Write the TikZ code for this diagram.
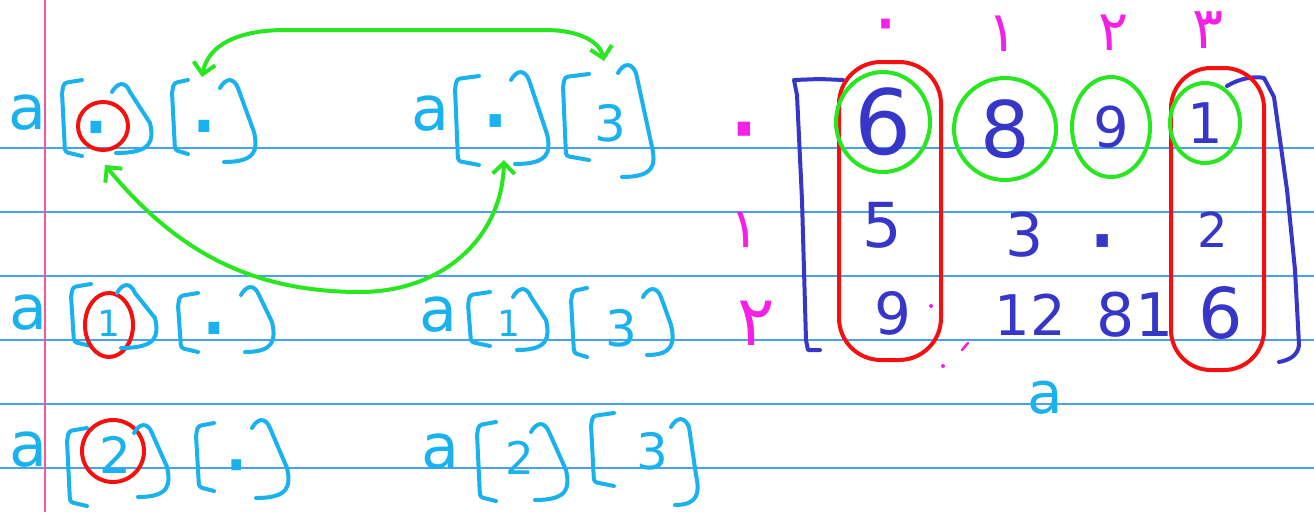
\documentclass[tikz,border=0pt]{standalone}
\usepackage{fontspec}
\setmainfont{DejaVu Sans}
\newfontfamily\fa[Script=Arabic]{DejaVu Sans}
\usetikzlibrary{arrows.meta}
\definecolor{inkblue}{HTML}{1AB2EE}
\definecolor{rulecol}{HTML}{4A9FF2}
\definecolor{margincol}{HTML}{F2589A}
\definecolor{gpen}{HTML}{28E620}
\definecolor{rpen}{HTML}{F51010}
\definecolor{mpen}{HTML}{3636C8}
\definecolor{lpen}{HTML}{F51FE6}
\tikzset{
  pen/.style={line width=4pt,line cap=round,line join=round},
  brk/.style={pen,draw=inkblue,rounded corners=3pt},
  lb/.style={text=inkblue,inner sep=0pt},
  mn/.style={text=mpen,inner sep=0pt},
  lab/.style={text=lpen,inner sep=0pt},
  fs/.style={font=\fontsize{#1}{#1}\selectfont},
  rcirc/.style={pen,draw=rpen},
  gcirc/.style={pen,draw=gpen},
  garrow/.style={pen,draw=gpen,{Straight Barb[length=11pt,width=22pt]}-{Straight Barb[length=11pt,width=22pt]}},
  rulel/.style={draw=rulecol,line width=1.3pt}
}
\newcommand\LBrk[4]{\draw[brk] (#1+#4,#2) -- (#1+2,#2+3) -- (#1,#2+12) -- (#1+3,#3-4) -- (#1+#4,#3);}
\newcommand\RBrk[4]{\draw[brk,rounded corners=0pt] (#1-#4,#2+10) .. controls (#1-#4+5,#2+1) and (#1-#4+13,#2-2) .. (#1-#4+18,#2+10) -- (#1-2,#3-30) .. controls (#1+2,#3-12) and (#1,#3) .. (#1-#4+4,#3);}
\begin{document}
\begin{tikzpicture}[x=1pt,y=-1pt]
\useasboundingbox (0,0) rectangle (1314,512);
\fill[white] (0,0) rectangle (1314,512);
% ruled paper
\foreach \yy in {148,212,276,340,404,468} \draw[rulel] (0,\yy) -- (1314,\yy);
\draw[draw=margincol,line width=1.8pt] (45,0) -- (45,512);

% ---------- row 0 ----------
\node[lb,fs=62] (a00) at (27,113) {a};
\LBrk{62}{80}{156}{20}
\node[lb,fs=100] (i00a) at (96,138) {\fa ۰};
\RBrk{152}{82}{153}{40}
\LBrk{172}{80}{154}{16}
\node[lb,fs=100] (i00b) at (204,137) {\fa ۰};
\RBrk{256}{78}{162}{36}
\draw[rcirc] (103,126) ellipse [x radius=25,y radius=24];
\node[lb,fs=105] (i03a) at (496,133) {\fa ۰};
\node[lb,fs=62] (a03) at (430,114) {a};
\LBrk{455}{76}{165}{24}
\RBrk{549}{70}{164}{38}
\LBrk{563}{74}{160}{26}
\node[lb,fs=50] (i03b) at (610,123) {3};
\RBrk{654}{63}{177}{36}

% ---------- row 1 ----------
\node[lb,fs=62] (a10) at (28,313) {a};
\LBrk{71}{284}{346}{20}
\node[lb,fs=36] (i10a) at (109,323) {1};
\draw[rcirc] (109,325) ellipse [x radius=24,y radius=32];
\RBrk{157}{283}{348}{40}
\LBrk{178}{293}{352}{20}
\node[lb,fs=100] (i10b) at (214,339) {\fa ۰};
\RBrk{274}{285}{352}{33}
\node[lb,fs=62] (a13) at (438,315) {a};
\LBrk{468}{292}{346}{22}
\node[lb,fs=36] (i13a) at (509,323) {1};
\RBrk{548}{287}{350}{35}
\LBrk{571}{288}{357}{16}
\node[lb,fs=50] (i13b) at (621,328) {3};
\RBrk{673}{287}{355}{30}

% ---------- row 2 ----------
\node[lb,fs=62] (a20) at (28,450) {a};
\LBrk{67}{428}{506}{20}
\node[lb,fs=50] (i20a) at (115,455) {2};
\draw[rcirc] (113,451) ellipse [x radius=31,y radius=31];
\RBrk{169}{423}{497}{35}
\LBrk{196}{423}{491}{18}
\node[lb,fs=90] (i20b) at (237,475) {\fa ۰};
\RBrk{289}{418}{498}{37}
\node[lb,fs=62] (a23) at (440,452) {a};
\LBrk{477}{422}{501}{19}
\node[lb,fs=45] (i23a) at (520,458) {2};
\RBrk{568}{422}{500}{37}
\LBrk{591}{413}{486}{23}
\node[lb,fs=50] (i23b) at (652,451) {3};
\RBrk{698}{417}{505}{27}

% ---------- green arrows ----------
\coordinate (g1s) at (202,77);
\coordinate (g1m) at (285,30);
\coordinate (g1n) at (545,30);
\coordinate (g1e) at (604,61);
\draw[garrow] (g1s) .. controls (208,44) and (240,30) .. (g1m) -- (g1n) .. controls (580,30) and (600,42) .. (g1e);
\coordinate (g2s) at (105,165);
\coordinate (g2m) at (360,292);
\coordinate (g2e) at (504,160);
\draw[garrow] (g2s) .. controls (175,250) and (250,292) .. (g2m) .. controls (440,292) and (502,240) .. (g2e);

% ---------- matrix ----------
\node[lab,fs=80] (c0) at (886,46) {\fa\smash{۰}};
\node[lab,fs=56] (c1) at (1003,34) {\fa ۱};
\node[lab,fs=56] (c2) at (1114,33) {\fa ۲};
\node[lab,fs=58] (c3) at (1208,30) {\fa ۳};
\node[lab,fs=115] (r0) at (744,142) {\fa ۰};
\node[lab,fs=56] (r1) at (745,230) {\fa ۱};
\node[lab,fs=70] (r2) at (756,323) {\fa ۲};

\draw[pen,draw=mpen] (843,80) -- (820,79) -- (794,80) -- (797,95) -- (802,200) -- (806,340) -- (808,350) -- (820,350);
\draw[pen,draw=mpen] (1227,86) .. controls (1240,78) and (1255,76) .. (1264,78) -- (1274,97) -- (1287,190) -- (1295,270) -- (1299,345) .. controls (1298,355) and (1290,360) .. (1279,362);

\node[mn,fs=90] (m00) at (883,122) {6};
\node[mn,fs=78] (m01) at (1005,129) {8};
\node[mn,fs=56] (m02) at (1111,127) {9};
\node[mn,fs=56] (m03) at (1205,123) {1};
\node[mn,fs=62] (m10) at (882,225) {5};
\node[mn,fs=60] (m11) at (1025,235) {3};
\node[mn,fs=105] (m12) at (1103,253) {\fa ۰};
\node[mn,fs=48] (m13) at (1213,230) {2};
\node[mn,fs=58] (m20) at (893,313) {9};
\node[mn,fs=56] (m21) at (1030,315) {12};
\node[mn,fs=60] (m22) at (1135,315) {81};
\node[mn,fs=70] (m23) at (1221,313) {6};
\node[lb,fs=58] (mname) at (1045,398) {a};

% red column ovals
\draw[rcirc,rounded corners=42pt] (839,62) rectangle (941,360);
\draw[rcirc,rounded corners=40pt] (1171,68) rectangle (1264,370);
% green circles
\draw[gcirc] (m00.center) ellipse [x radius=47,y radius=50];
\draw[gcirc] (m01.center) ellipse [x radius=51,y radius=51];
\draw[gcirc] (m02.center) ellipse [x radius=39,y radius=50];
\draw[gcirc] (m03.center) ellipse [x radius=35,y radius=40];

% stray magenta marks
\fill[lpen] (931,306) circle (2pt);
\fill[lpen] (943,366) circle (2pt);
\draw[pen,draw=lpen,line width=2.5pt] (962,350) -- (968,343);
\end{tikzpicture}
\end{document}
